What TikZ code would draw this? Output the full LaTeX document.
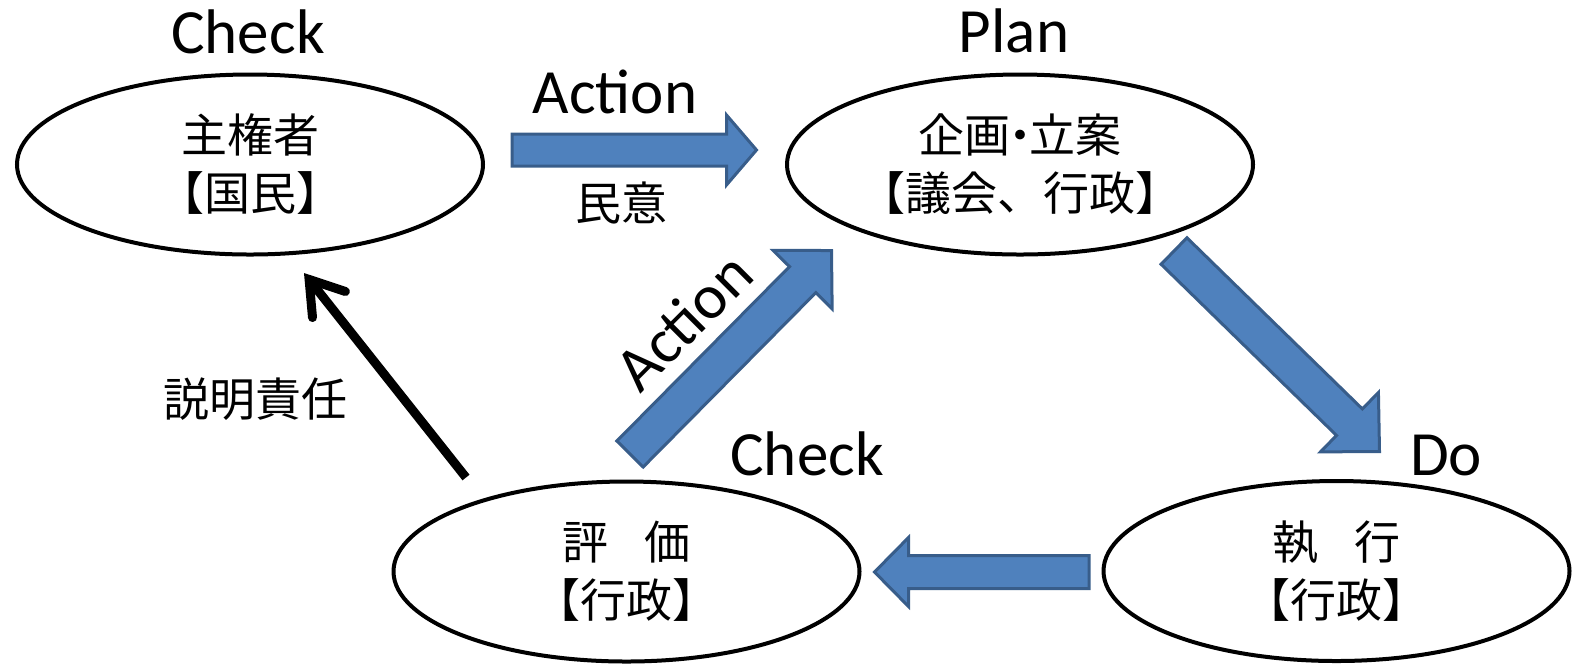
\documentclass[tikz,border=0pt]{standalone}
\usepackage{fontspec}
\setmainfont{Carlito}
\newfontfamily\jpfont{Noto Sans CJK JP}
\usetikzlibrary{shapes.geometric,arrows.meta,calc}
\definecolor{arrfill}{HTML}{4F81BD}
\definecolor{arrline}{HTML}{385D8A}
\tikzset{
  oval/.style={ellipse, draw=black, line width=2pt, fill=white, inner sep=0pt,
    minimum width=233pt, minimum height=90pt, align=center,
    font=\jpfont\fontsize{23}{29}\selectfont},
  lat/.style={font=\fontsize{31.5}{36}\selectfont, anchor=base, inner sep=0pt},
  jtxt/.style={font=\jpfont\fontsize{23}{29}\selectfont, inner sep=0pt},
  blockarrow/.style={fill=arrfill, draw=arrline, line width=1.5pt, line join=miter},
  blackarrow/.style={line width=4.5pt,
    -{Straight Barb[length=16pt,width=21pt,line cap=round,line join=miter]}}
}
% #1 tail coordinate, #2 tip coordinate, #3 shaft half width, #4 head half width, #5 head length
\newcommand\blockarr[5]{%
  \coordinate (#1h) at ($(#2)!#5!(#1)$);
  \draw[blockarrow] ($(#1)!#3!90:(#2)$) -- ($(#1h)!#3!90:(#2)$) -- ($(#1h)!#4!90:(#2)$)
    -- (#2) -- ($(#1h)!#4!-90:(#2)$) -- ($(#1h)!#3!-90:(#2)$) -- ($(#1)!#3!-90:(#2)$) -- cycle;
}
\begin{document}
\begin{tikzpicture}[x=0.5pt,y=-0.5pt]
\useasboundingbox (0,0) rectangle (1573,666);

% ellipses
\node[oval] (sov)  at (250,164.5)  {主権者\\【国民】};
\node[oval] (plan) at (1020,164.5) {企画\hspace{-0.3em}・\hspace{-0.3em}立案\\【議会、行政】};
\node[oval] (eval) at (626.5,571.5) {評\hspace{0.8em}価\\【行政】};
\node[oval] (exec) at (1336.5,571) {執\hspace{0.8em}行\\【行政】};

% labels
\node[lat] (chk1) at (248,53) {Check};
\node[lat] (planl) at (1014,52) {Plan};
\node[lat] (act1) at (615,113) {Action};
\node[jtxt] (mini) at (621,203) {民意};
\node[jtxt] (acct) at (255,399) {説明責任};
\node[lat] (chk2) at (807,475) {Check};
\node[lat] (dol) at (1446,475) {Do};
\node[lat, rotate=45] (act2) at (698.5,336.5) {Action};

% block arrows
\coordinate (aa) at (512,150);   \coordinate (ab) at (756.5,150);
\blockarr{aa}{ab}{8pt}{17.5pt}{15pt}
\coordinate (ba) at (1089,572);  \coordinate (bb) at (874.5,572);
\blockarr{ba}{bb}{8.25pt}{17.25pt}{17pt}
\coordinate (ca) at (630,454);   \coordinate (cb) at (831.5,250.5);
\blockarr{ca}{cb}{9.25pt}{20.75pt}{20.5pt}
\coordinate (da) at (1174,251);  \coordinate (db) at (1379.5,451.5);
\blockarr{da}{db}{9.25pt}{20.75pt}{21pt}

% accountability arrow
\coordinate (ea) at (466,477.5);
\coordinate (eb) at (304,273);
\draw[blackarrow] (ea) -- (eb);
\end{tikzpicture}
\end{document}
